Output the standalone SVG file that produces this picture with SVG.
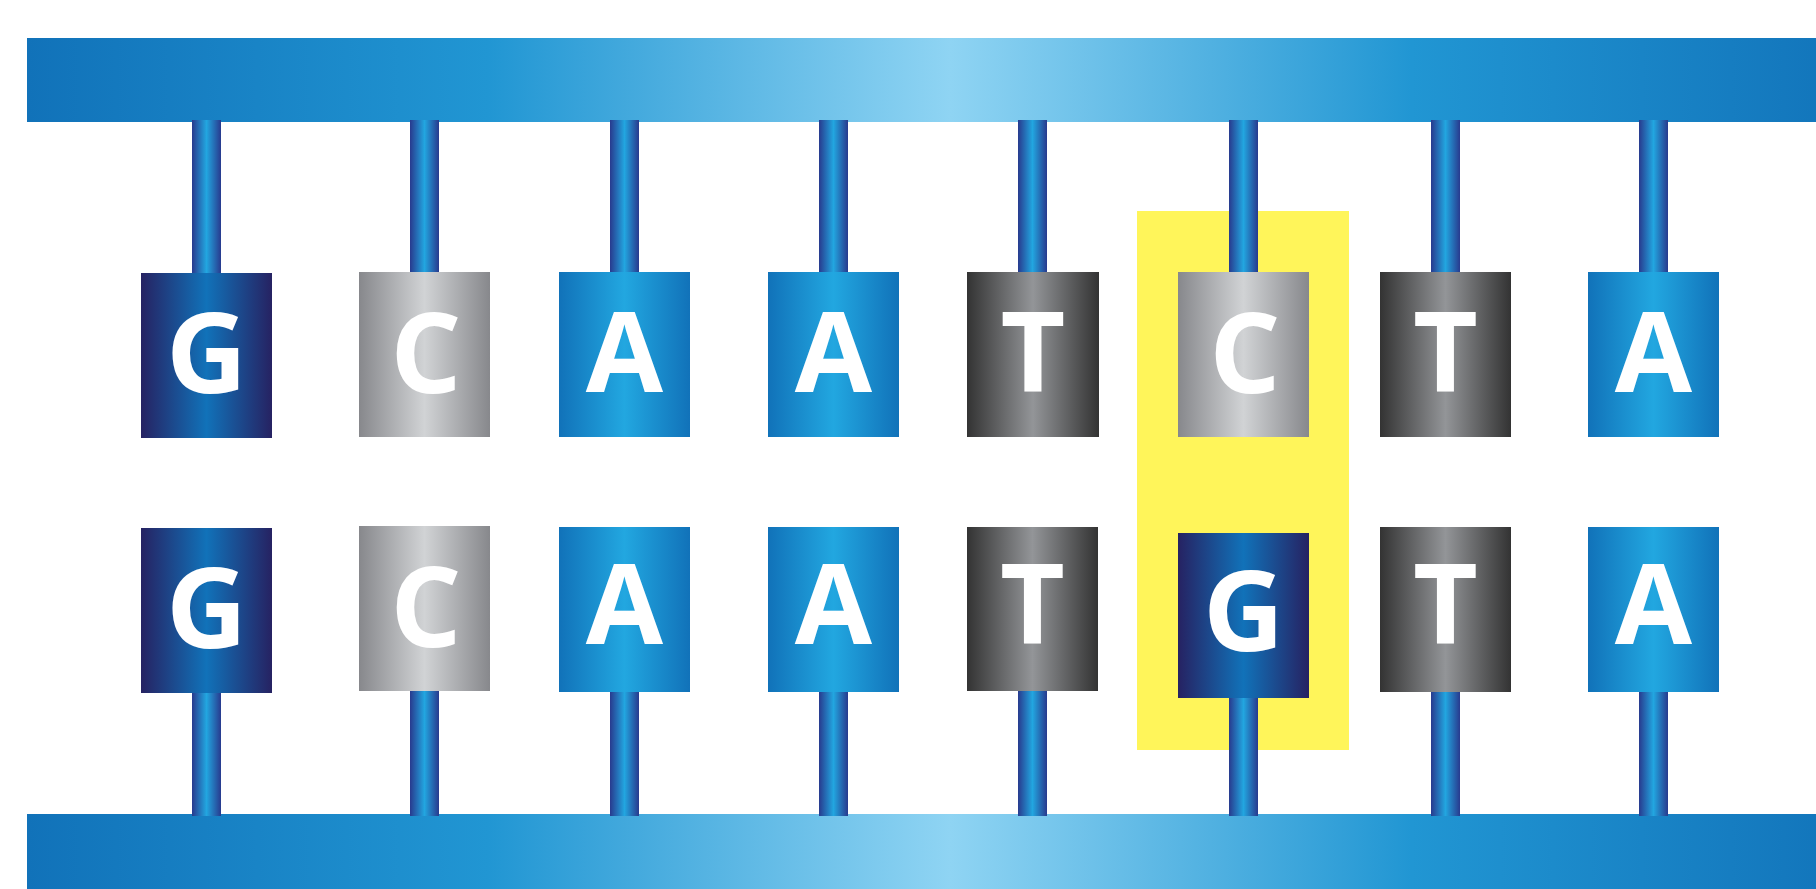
<svg xmlns="http://www.w3.org/2000/svg" width="1816" height="889" viewBox="0 0 1816 889">
<defs>
<linearGradient id="bar" gradientUnits="userSpaceOnUse" x1="27" y1="0" x2="1873" y2="0">
<stop offset="0" stop-color="#1172b9"/>
<stop offset="0.25" stop-color="#2196d3"/>
<stop offset="0.5" stop-color="#8fd4f3"/>
<stop offset="0.75" stop-color="#2196d3"/>
<stop offset="1" stop-color="#1172b9"/>
</linearGradient>
<linearGradient id="stick" x1="0" y1="0" x2="1" y2="0">
<stop offset="0" stop-color="#283a8e"/>
<stop offset="0.5" stop-color="#22a6e0"/>
<stop offset="1" stop-color="#283a8e"/>
</linearGradient>
<linearGradient id="gG" x1="0" y1="0" x2="1" y2="0">
<stop offset="0" stop-color="#262262"/>
<stop offset="0.5" stop-color="#1172b9"/>
<stop offset="1" stop-color="#262262"/>
</linearGradient>
<linearGradient id="gC" x1="0" y1="0" x2="1" y2="0">
<stop offset="0" stop-color="#87888c"/>
<stop offset="0.5" stop-color="#d1d3d5"/>
<stop offset="1" stop-color="#87888c"/>
</linearGradient>
<linearGradient id="gA" x1="0" y1="0" x2="1" y2="0">
<stop offset="0" stop-color="#1172b9"/>
<stop offset="0.5" stop-color="#22a7e0"/>
<stop offset="1" stop-color="#1172b9"/>
</linearGradient>
<linearGradient id="gT" x1="0" y1="0" x2="1" y2="0">
<stop offset="0" stop-color="#333333"/>
<stop offset="0.5" stop-color="#939598"/>
<stop offset="1" stop-color="#333333"/>
</linearGradient>
</defs>
<style>
.lbl{font-family:"Open Sans","Liberation Sans",sans-serif;font-weight:bold;font-size:112px;fill:#ffffff;text-anchor:middle}
.st{fill:url(#stick)}
.G{fill:url(#gG)}
.C{fill:url(#gC)}
.A{fill:url(#gA)}
.T{fill:url(#gT)}
</style>
<rect width="1816" height="889" fill="#ffffff"/>
<rect id="highlight" x="1137" y="211" width="212" height="539" fill="#fff55a"/>
<g id="backbones">
<rect id="top-strand" x="27" y="38" width="1846" height="84" fill="url(#bar)"/>
<rect id="bottom-strand" x="27" y="814" width="1846" height="80" fill="url(#bar)"/>
</g>
<g id="connectors">
<rect class="st" x="192" y="120" width="29" height="160"/>
<rect class="st" x="410" y="120" width="29" height="160"/>
<rect class="st" x="610" y="120" width="29" height="160"/>
<rect class="st" x="819" y="120" width="29" height="160"/>
<rect class="st" x="1018" y="120" width="29" height="160"/>
<rect class="st" x="1229" y="120" width="29" height="160"/>
<rect class="st" x="1431" y="120" width="29" height="160"/>
<rect class="st" x="1639" y="120" width="29" height="160"/>
<rect class="st" x="192" y="680" width="29" height="136"/>
<rect class="st" x="410" y="680" width="29" height="136"/>
<rect class="st" x="610" y="680" width="29" height="136"/>
<rect class="st" x="819" y="680" width="29" height="136"/>
<rect class="st" x="1018" y="680" width="29" height="136"/>
<rect class="st" x="1229" y="680" width="29" height="136"/>
<rect class="st" x="1431" y="680" width="29" height="136"/>
<rect class="st" x="1639" y="680" width="29" height="136"/>
</g>
<g id="top1"><rect class="G" x="141" y="273" width="131" height="165"/><text class="lbl" x="206.5" y="393">G</text></g>
<g id="top2"><rect class="C" x="359" y="272" width="131" height="165"/><text class="lbl" x="426" y="393">C</text></g>
<g id="top3"><rect class="A" x="559" y="272" width="131" height="165"/><text class="lbl" x="624.5" y="392">A</text></g>
<g id="top4"><rect class="A" x="768" y="272" width="131" height="165"/><text class="lbl" x="833.5" y="392">A</text></g>
<g id="top5"><rect class="T" x="967" y="272" width="132" height="165"/><text class="lbl" x="1033" y="392">T</text></g>
<g id="top6"><rect class="C" x="1178" y="272" width="131" height="165"/><text class="lbl" x="1245" y="393">C</text></g>
<g id="top7"><rect class="T" x="1380" y="272" width="131" height="165"/><text class="lbl" x="1445.5" y="392">T</text></g>
<g id="top8"><rect class="A" x="1588" y="272" width="131" height="165"/><text class="lbl" x="1653.5" y="392">A</text></g>
<g id="bot1"><rect class="G" x="141" y="528" width="131" height="165"/><text class="lbl" x="206.5" y="648">G</text></g>
<g id="bot2"><rect class="C" x="359" y="526" width="131" height="165"/><text class="lbl" x="426" y="647">C</text></g>
<g id="bot3"><rect class="A" x="559" y="527" width="131" height="165"/><text class="lbl" x="624.5" y="644">A</text></g>
<g id="bot4"><rect class="A" x="768" y="527" width="131" height="165"/><text class="lbl" x="833.5" y="644">A</text></g>
<g id="bot5"><rect class="T" x="967" y="527" width="131" height="164"/><text class="lbl" x="1032.5" y="644">T</text></g>
<g id="bot6"><rect class="G" x="1178" y="533" width="131" height="165"/><text class="lbl" x="1243.5" y="651">G</text></g>
<g id="bot7"><rect class="T" x="1380" y="527" width="131" height="165"/><text class="lbl" x="1445.5" y="644">T</text></g>
<g id="bot8"><rect class="A" x="1588" y="527" width="131" height="165"/><text class="lbl" x="1653.5" y="644">A</text></g>
</svg>
